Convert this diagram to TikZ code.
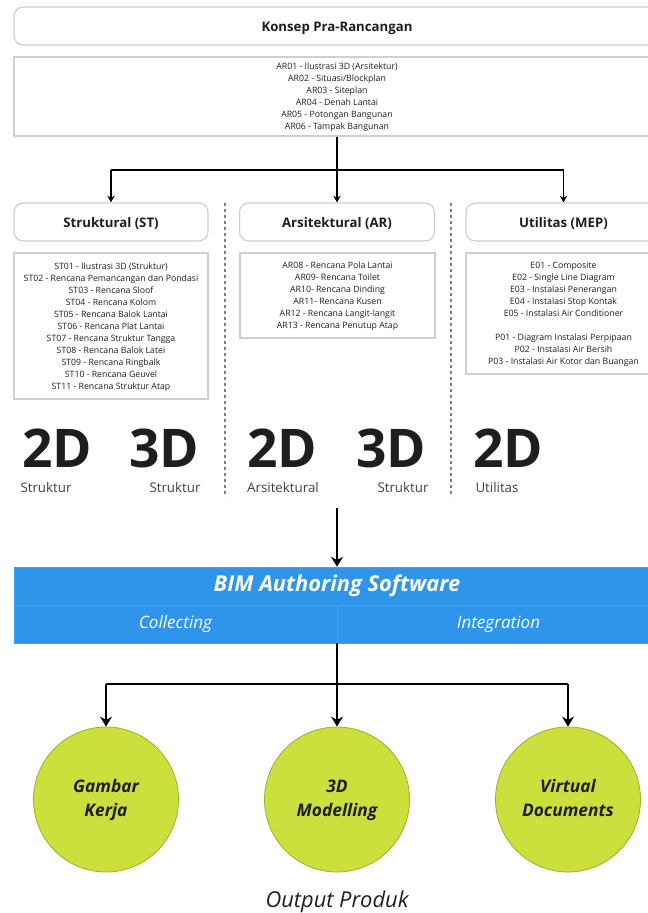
\documentclass[tikz,border=0pt]{standalone}
\usepackage{fontspec}
\setmainfont{Open Sans}
\usetikzlibrary{arrows.meta,calc}
\definecolor{ink}{HTML}{1E1E1E}
\definecolor{edge}{HTML}{CFCFCF}
\definecolor{bimblue}{HTML}{2E95EA}
\definecolor{bimline}{HTML}{3FA0EE}
\definecolor{lime}{HTML}{CBE03C}
\definecolor{limeedge}{HTML}{9DB02E}
\newcommand{\fs}[2]{\fontsize{#1}{#2}\selectfont}
\newcommand{\headnudge}{\rule{0pt}{10.5pt}}
\newcommand{\listnudge}{\rule{0pt}{6.6pt}}
\newcommand{\circstrut}{\rule[-3pt]{0pt}{13pt}}
\tikzset{
  x=0.75pt,y=-0.75pt,
  headbox/.style={draw=edge,line width=0.9pt,rounded corners=7pt,fill=white,text=ink,inner sep=0pt,font=\fs{9.9}{12}\bfseries,align=center},
  listbox/.style={draw=edge,line width=0.9pt,fill=white,text=ink,inner sep=0pt,font=\fs{6.55}{9}\selectfont,align=center},
  bigtag/.style={text=ink,inner sep=0pt,font=\fs{40}{44}\bfseries,anchor=center},
  captag/.style={text=ink!85,inner sep=0pt,font=\fs{10}{12}\selectfont,anchor=center},
  blueband/.style={fill=bimblue,draw=bimline,line width=0.4pt,inner sep=0pt,text=white,align=center},
  outcircle/.style={draw=limeedge,line width=0.6pt,fill=lime,circle,inner sep=0pt,text=ink,align=center,font=\fs{13}{18}\bfseries\itshape},
  thinarrow/.style={draw=black,line width=0.9pt,-{Stealth[length=5pt,width=5.5pt]}},
  thickarrow/.style={draw=black,line width=2pt,-{Stealth[length=7.5pt,width=9pt,inset=2.5pt]}},
  thinline/.style={draw=black,line width=0.9pt},
  thickline/.style={draw=black,line width=2pt},
  divider/.style={draw=black!50,line width=0.8pt,dash pattern=on 2pt off 2.5pt},
}
\begin{document}
\begin{tikzpicture}
\useasboundingbox (0,0) rectangle (648,913);
\clip (0,0) rectangle (648,913);

\node[headbox,minimum width=646*0.75pt,minimum height=38*0.75pt] (top) at (337,26) {\headnudge Konsep Pra-Rancangan};
\node[listbox,minimum width=646*0.75pt,minimum height=79*0.75pt] (toplist) at (337,96.5) {\listnudge AR01 - Ilustrasi 3D (Arsitektur)\\AR02 - Situasi/Blockplan\\AR03 - Siteplan\\AR04 - Denah Lantai\\AR05 - Potongan Bangunan\\AR06 - Tampak Bangunan};

\node[headbox,minimum width=194*0.75pt,minimum height=38*0.75pt] (st) at (111,222) {\headnudge Struktural (ST)};
\node[headbox,minimum width=195*0.75pt,minimum height=38*0.75pt] (ar) at (337,222) {\headnudge Arsitektural (AR)};
\node[headbox,minimum width=195*0.75pt,minimum height=38*0.75pt] (mep) at (563.5,222) {\headnudge Utilitas (MEP)};

\node[listbox,minimum width=194*0.75pt,minimum height=146*0.75pt] (stlist) at (111,326) {\listnudge ST01 - Ilustrasi 3D (Struktur)\\ST02 - Rencana Pemancangan dan Pondasi\\ST03 - Rencana Sloof\\ST04 - Rencana Kolom\\ST05 - Rencana Balok Lantai\\ST06 - Rencana Plat Lantai\\ST07 - Rencana Struktur Tangga\\ST08 - Rencana Balok Latei\\ST09 - Rencana Ringbalk\\ST10 - Rencana Geuvel\\ST11 - Rencana Struktur Atap};
\node[listbox,minimum width=195*0.75pt,minimum height=85*0.75pt] (arlist) at (337.5,295.5) {\listnudge AR08 - Rencana Pola Lantai\\AR09- Rencana Toilet\\AR10- Rencana Dinding\\AR11- Rencana Kusen\\AR12 - Rencana Langit-langit\\AR13 - Rencana Penutup Atap};
\node[listbox,minimum width=195*0.75pt,minimum height=121*0.75pt] (meplist) at (563.5,313.5) {\listnudge E01 - Composite\\E02 - Single Line Diagram\\E03 - Instalasi Penerangan\\E04 - Instalasi Stop Kontak\\E05 - Instalasi Air Conditioner\\[9pt]P01 - Diagram Instalasi Perpipaan\\P02 - Instalasi Air Bersih\\P03 - Instalasi Air Kotor dan Buangan};

\coordinate (d1a) at (225,203); \coordinate (d1b) at (225,497);
\coordinate (d2a) at (451,203); \coordinate (d2b) at (451,497);
\draw[divider] (d1a) -- (d1b);
\draw[divider] (d2a) -- (d2b);

\node[bigtag] (t2a) at (57,448) {2D};
\node[bigtag] (t3a) at (164,448) {3D};
\node[bigtag] (t2b) at (282.5,448) {2D};
\node[bigtag] (t3b) at (391,448) {3D};
\node[bigtag] (t2c) at (508.5,448) {2D};
\node[captag] (c1) at (46,487) {Struktur};
\node[captag] (c2) at (175,487) {Struktur};
\node[captag] (c3) at (283,487) {Arsitektural};
\node[captag] (c4) at (403,487) {Struktur};
\node[captag] (c5) at (497,487) {Utilitas};

\node[blueband,minimum width=646*0.75pt,minimum height=38*0.75pt,font=\fs{16.4}{18}\bfseries\itshape] (bim) at (337,586) {BIM Authoring Software};
\node[blueband,minimum width=323*0.75pt,minimum height=38*0.75pt,font=\fs{12.8}{14}\itshape] (coll) at (175.5,624) {Collecting};
\node[blueband,minimum width=323*0.75pt,minimum height=38*0.75pt,font=\fs{12.8}{14}\itshape] (integ) at (498.5,624) {Integration};

\node[outcircle,minimum size=145*0.75pt] (o1) at (106,799.5) {\circstrut Gambar\\\circstrut Kerja};
\node[outcircle,minimum size=145*0.75pt] (o2) at (337,799.5) {\circstrut 3D\\\circstrut Modelling};
\node[outcircle,minimum size=145*0.75pt] (o3) at (568,799.5) {\circstrut Virtual\\\circstrut Documents};
\node[text=ink,inner sep=0pt,font=\fs{16.4}{18}\itshape] (out) at (337,902) {Output Produk};

% upper connectors
\coordinate (j1) at (toplist.south |- 0,170);
\draw[thinline] (j1 -| st.north) -- (j1 -| mep.north);
\draw[thinarrow] (j1 -| st.north) -- (st.north);
\draw[thinarrow] (toplist.south) -- (ar.north);
\draw[thinarrow] (j1 -| mep.north) -- (mep.north);

% middle arrow
\coordinate (m0) at (337,508);
\draw[thickarrow] (m0) -- (bim.north -| m0);

% lower connectors
\coordinate (j2) at (337,684);
\coordinate (bimbot) at (337,643);
\draw[thickline] (j2 -| o1.north) -- (j2 -| o3.north);
\draw[thickarrow] (j2 -| o1.north) -- (o1.north);
\draw[thickarrow] (bimbot) -- (o2.north);
\draw[thickarrow] (j2 -| o3.north) -- (o3.north);
\end{tikzpicture}
\end{document}
